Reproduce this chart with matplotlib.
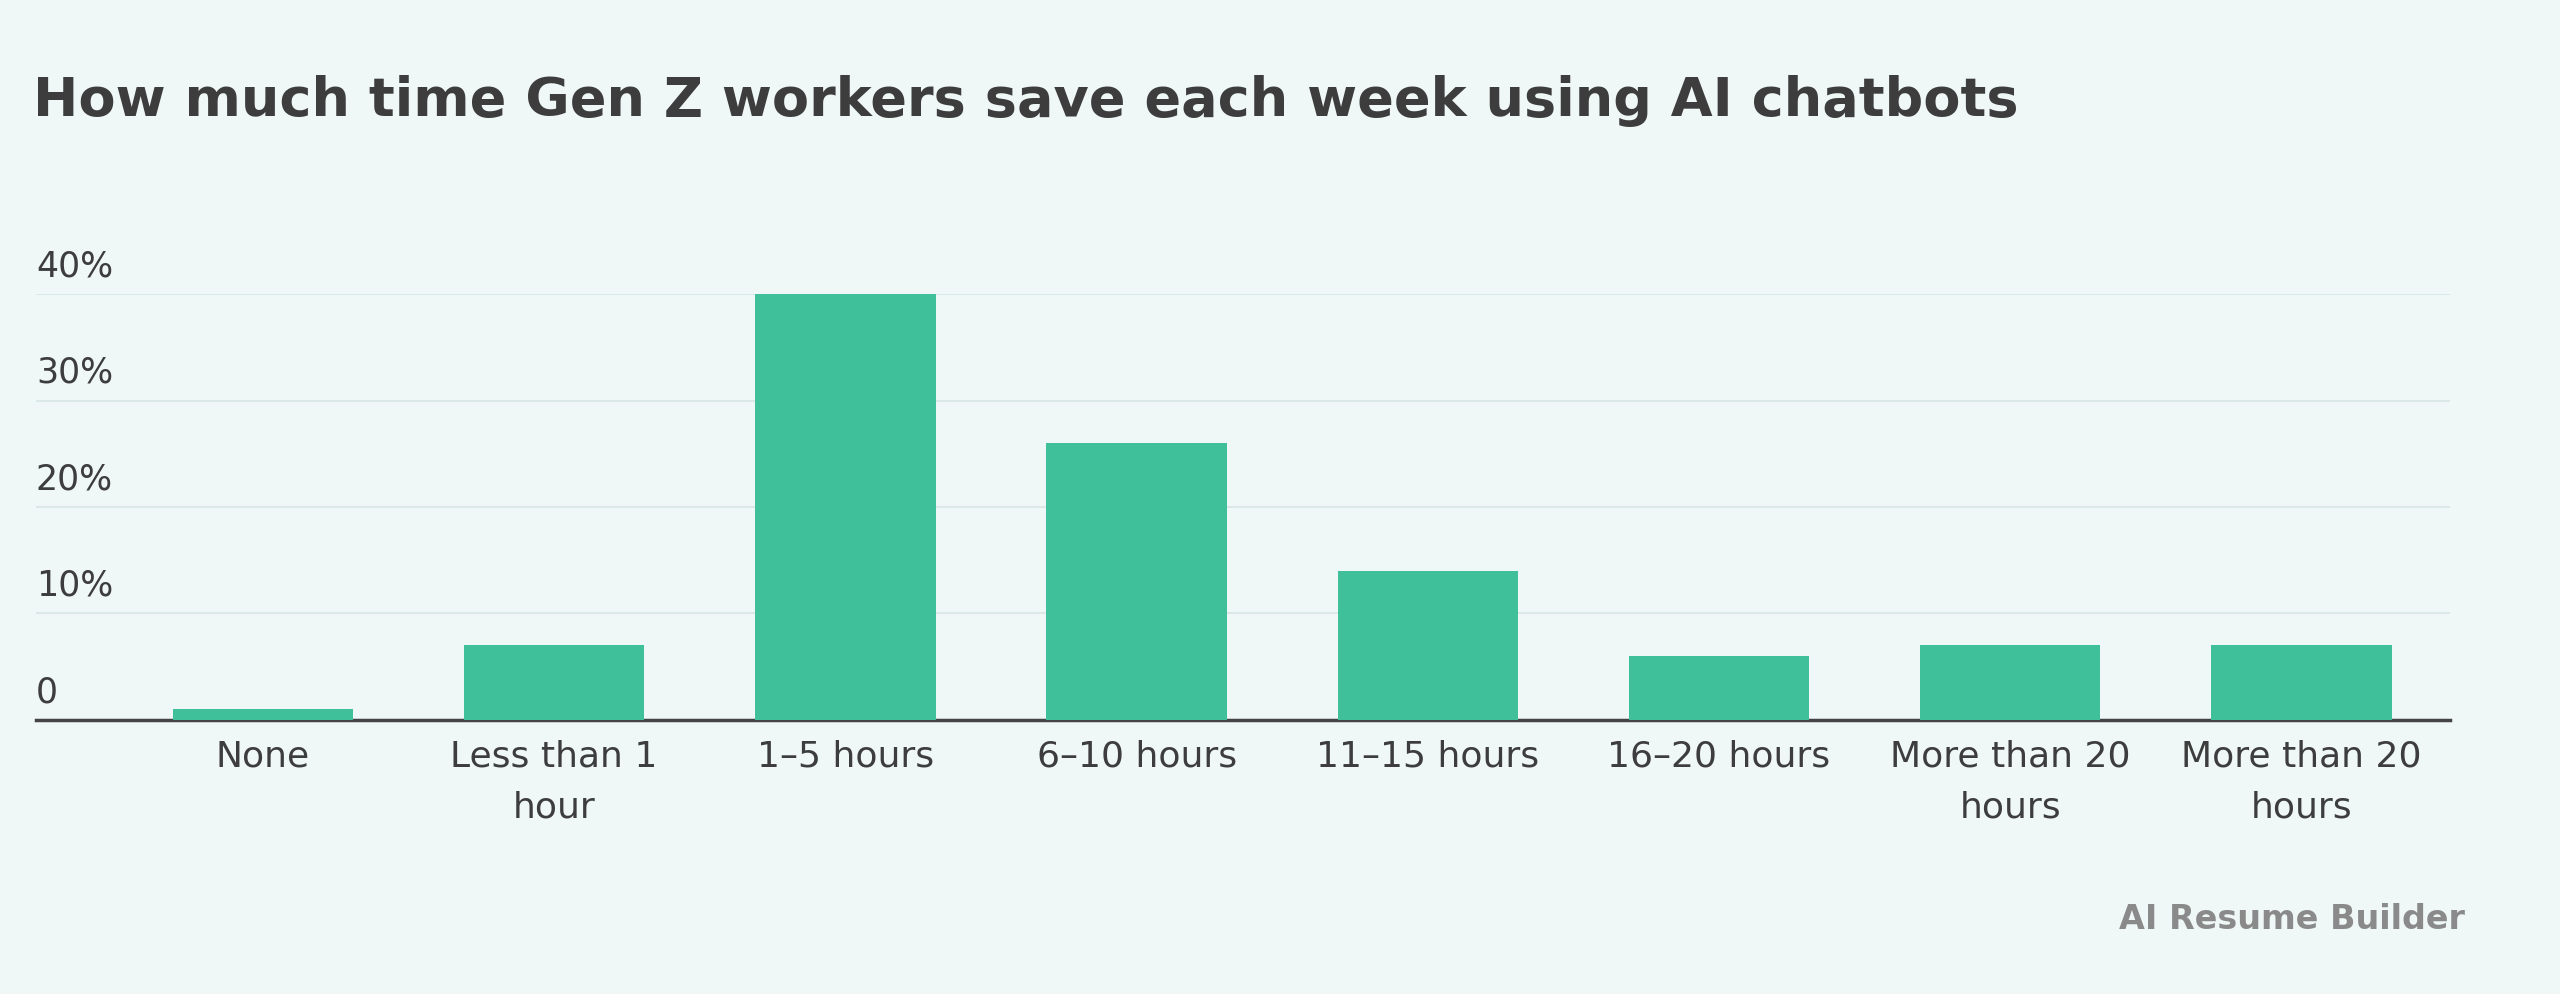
import matplotlib.pyplot as plt

# data
categories = ["None", "Less than 1\nhour", "1–5 hours", "6–10 hours", "11–15 hours",
              "16–20 hours", "More than 20\nhours", "More than 20\nhours"]
values = [1, 7, 40, 26, 14, 6, 7, 7]
yticks = [0, 10, 20, 30, 40]
ytick_labels = ["0", "10%", "20%", "30%", "40%"]

bg = "#eff7f7"
bar_color = "#40bf9b"
text_color = "#3d3d3d"

fig = plt.figure(figsize=(25.6, 9.94), dpi=100, facecolor=bg)
ax = fig.add_axes([0.014, 0.276, 0.943, 0.428], facecolor=bg)

x = range(len(categories))
ax.bar(x, values, width=0.62, color=bar_color, zorder=3)
ax.set_xlim(-0.78, 7.51)
ax.set_ylim(0, 40)

for t, lab in zip(yticks, ytick_labels):
    if t > 0:
        ax.axhline(t, color="#dbe8e8", lw=1.5, zorder=1)
    ax.text(0.0, t + 1.0, lab, transform=ax.get_yaxis_transform(), ha="left", va="bottom",
            fontsize=25, color=text_color)

for s in ["top", "right", "left"]:
    ax.spines[s].set_visible(False)
ax.spines["bottom"].set_color("#444444")
ax.spines["bottom"].set_linewidth(2.5)
ax.set_yticks([])
ax.set_xticks(list(x))
ax.set_xticklabels(categories, fontsize=26, color=text_color, linespacing=1.65)
ax.tick_params(axis="x", length=0, pad=14)

fig.text(0.013, 0.898, "How much time Gen Z workers save each week using AI chatbots",
         fontsize=39, fontweight="bold", color=text_color, ha="left", va="center")
fig.text(0.963, 0.075, "AI Resume Builder", fontsize=24, fontweight="bold",
         color="#8a8a8a", ha="right", va="center")

fig.savefig("out.png", facecolor=bg)
